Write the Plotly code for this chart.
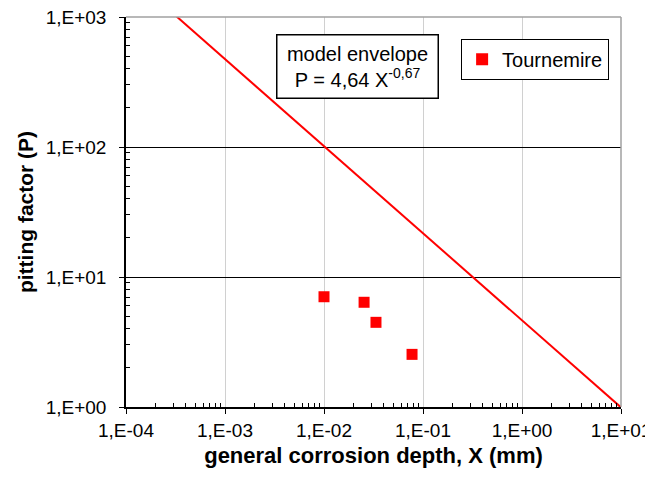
import plotly.graph_objects as go

# Data
depth_mm = [0.0100, 0.0254, 0.0335, 0.0775]
pitting_factor = [7.05, 6.39, 4.48, 2.54]
series_name = "Tournemire"

model_coef = 4.64
model_exp = -0.67
model_x = [2.75e-4, 10.0]
model_y = [model_coef * x ** model_exp for x in model_x]

x_tickvals = [1e-4, 1e-3, 1e-2, 1e-1, 1e0, 1e1]
x_ticktext = ["1,E-04", "1,E-03", "1,E-02", "1,E-01", "1,E+00", "1,E+01"]
y_tickvals = [1, 10, 100, 1000]
y_ticktext = ["1,E+00", "1,E+01", "1,E+02", "1,E+03"]

# minor tick positions (2..9 within each decade)
x_minor = [k * 10.0 ** e for e in range(-4, 1) for k in range(2, 10)]
y_minor = [k * 10.0 ** e for e in range(0, 3) for k in range(2, 10)]

FONT = "Liberation Sans, Arial, sans-serif"

fig = go.Figure()
fig.add_trace(go.Scatter(
    x=model_x, y=model_y, mode="lines",
    line=dict(color="#ff0000", width=2), showlegend=False, hoverinfo="skip"))
fig.add_trace(go.Scatter(
    x=depth_mm, y=pitting_factor, mode="markers", name=series_name,
    marker=dict(symbol="square", size=11, color="#ff0000")))

fig.update_layout(
    width=645, height=475,
    margin=dict(l=118, r=32, t=9, b=76),
    plot_bgcolor="white", paper_bgcolor="white",
    font=dict(family=FONT, size=19, color="black"),
    legend=dict(x=0.677, y=0.944, xanchor="left", yanchor="top",
                bordercolor="black", borderwidth=1, bgcolor="white",
                font=dict(size=20), itemsizing="constant", itemwidth=30),
    xaxis=dict(type="log", range=[-4, 1], tickvals=x_tickvals, ticktext=x_ticktext,
               automargin=False, ticklabeloverflow="allow",
               showgrid=True, gridcolor="#d0d0d0", gridwidth=1,
               showline=True, linecolor="black", linewidth=1.5,
               ticks="outside", ticklen=5, tickcolor="black",
               minor=dict(tickmode="array", tickvals=x_minor, ticks="inside",
                          ticklen=4, tickcolor="black", showgrid=False),
               tickfont=dict(size=19),
               title=dict(text="<b>general corrosion depth, X (mm)</b>",
                          font=dict(size=22), standoff=8),
               zeroline=False),
    yaxis=dict(type="log", range=[0, 3], tickvals=y_tickvals, ticktext=y_ticktext,
               automargin=False, ticklabeloverflow="allow", ticklabelstandoff=9,
               showgrid=True, gridcolor="black", gridwidth=1,
               showline=True, linecolor="black", linewidth=1.5,
               ticks="outside", ticklen=5, tickcolor="black",
               minor=dict(tickmode="array", tickvals=y_minor, ticks="inside",
                          ticklen=4, tickcolor="black", showgrid=False),
               tickfont=dict(size=19),
               title=dict(text="<b>pitting factor (P)</b>", font=dict(size=21), standoff=6),
               zeroline=False),
    shapes=[
        dict(type="line", xref="paper", yref="paper", x0=0, x1=1, y0=1, y1=1,
             line=dict(color="#a0a0a0", width=1.5), layer="above"),
        dict(type="line", xref="paper", yref="paper", x0=1, x1=1, y0=0, y1=1,
             line=dict(color="#a0a0a0", width=1.5), layer="above"),
    ],
    annotations=[
        dict(xref="paper", yref="paper", x=0.4667, y=0.874,
             xanchor="center", yanchor="middle", showarrow=False,
             text="model envelope<br>P = 4,64 X<sup>-0,67</sup>",
             font=dict(size=20), align="center",
             bordercolor="black", borderwidth=1.5, bgcolor="white",
             width=152, height=54, borderpad=4),
    ],
)

fig.write_html("out.html")
